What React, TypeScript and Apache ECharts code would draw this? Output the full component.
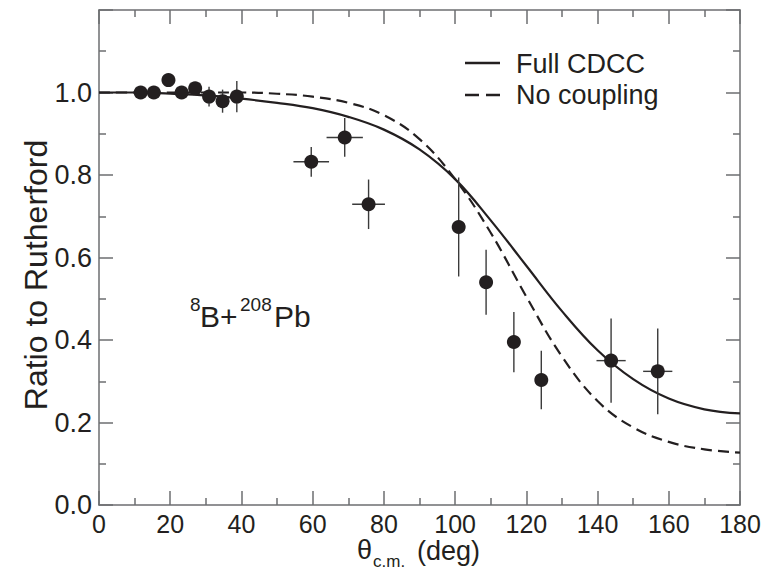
import React, { useEffect, useRef } from "react";
import * as echarts from "echarts";

// Measured data points (theta c.m. in deg, ratio to Rutherford)
const angles = [11.7, 15.4, 19.5, 23.2, 27.0, 30.9, 34.7, 38.7, 59.6, 69.0, 75.7, 101.0, 108.7, 116.5, 124.2, 143.8, 156.9];
const ratios = [1.0, 1.0, 1.03, 1.0, 1.01, 0.99, 0.979, 0.99, 0.832, 0.891, 0.729, 0.674, 0.54, 0.395, 0.303, 0.35, 0.324];
const ratioErrors = [0, 0, 0, 0, 0.014, 0.024, 0.028, 0.038, 0.036, 0.047, 0.06, 0.12, 0.079, 0.073, 0.071, 0.102, 0.104];
const angleErrors = [0, 0, 0, 0, 0, 0, 0, 0, 5.0, 5.1, 4.6, 0, 0, 0, 0, 4.1, 4.1];

// Calculated curves
const curveAngles = [0, 10, 20, 30, 40, 50, 60, 70, 80, 90, 100, 110, 120, 130, 140, 150, 160, 170, 180];
const fullCdcc = [1.0, 1.0, 0.997, 0.993, 0.985, 0.975, 0.962, 0.941, 0.91, 0.862, 0.79, 0.69, 0.58, 0.47, 0.375, 0.305, 0.258, 0.232, 0.222];
const noCoupling = [1.0, 1.0, 1.0, 1.0, 1.0, 0.997, 0.99, 0.975, 0.945, 0.887, 0.79, 0.66, 0.505, 0.36, 0.252, 0.188, 0.153, 0.135, 0.127];

const seriesNames = ["Full CDCC", "No coupling"];
const yTickLabels = ["0.0", "0.2", "0.4", "0.6", "0.8", "1.0"];

const FONT = "'Liberation Sans', Arial, Helvetica, sans-serif";
const INK = "#231f20";
const AXIS = "#6d6e71";

export default function App() {
  const ref = useRef<HTMLDivElement>(null);

  useEffect(() => {
    if (!ref.current) return;
    const chart = echarts.init(ref.current, undefined, { renderer: "svg" });

    const points = angles.map((a, i) => [a, ratios[i], ratioErrors[i], angleErrors[i]]);
    const cdccData = curveAngles.map((a, i) => [a, fullCdcc[i]]);
    const noCoupData = curveAngles.map((a, i) => [a, noCoupling[i]]);

    const tickCommon = {
      axisLine: { show: true, onZero: false, lineStyle: { color: AXIS, width: 1.5 } },
      axisTick: { show: true, inside: true, length: 14, lineStyle: { color: AXIS, width: 1.5 } },
      minorTick: { show: true, splitNumber: 2, length: 7, lineStyle: { color: AXIS, width: 1.5 } },
      splitLine: { show: false },
      minorSplitLine: { show: false },
    };

    const textStyle = (extra: any) => ({ fontFamily: FONT, fill: INK, ...extra });

    const option: any = {
      animation: false,
      backgroundColor: "#ffffff",
      grid: { left: 99, right: 24, top: 10, bottom: 65, containLabel: false },
      xAxis: [
        {
          type: "value",
          min: 0,
          max: 180,
          interval: 20,
          position: "bottom",
          ...tickCommon,
          axisLabel: { show: true, fontFamily: FONT, fontSize: 25, color: INK, margin: 6 },
        },
        {
          type: "value",
          min: 0,
          max: 180,
          interval: 20,
          position: "top",
          ...tickCommon,
          axisLabel: { show: false },
        },
      ],
      yAxis: [
        {
          type: "value",
          min: 0,
          max: 1.2,
          interval: 0.2,
          position: "left",
          ...tickCommon,
          axisLabel: {
            show: true,
            fontFamily: FONT,
            fontSize: 27,
            color: INK,
            margin: 7,
            formatter: (v: number) => {
              const idx = Math.round(v / 0.2);
              return idx < yTickLabels.length ? yTickLabels[idx] : "";
            },
          },
        },
        {
          type: "value",
          min: 0,
          max: 1.2,
          interval: 0.2,
          position: "right",
          ...tickCommon,
          axisLabel: { show: false },
        },
      ],
      graphic: [
        // y-axis title
        {
          type: "text",
          x: 36,
          y: 275,
          rotation: Math.PI / 2,
          style: textStyle({ text: "Ratio to Rutherford", fontSize: 32, align: "center", verticalAlign: "middle" }),
        },
        // x-axis title: theta with subscript c.m.
        {
          type: "text",
          x: 357,
          y: 550,
          style: textStyle({ text: "θ", fontSize: 27, align: "left", verticalAlign: "middle" }),
        },
        {
          type: "text",
          x: 373,
          y: 561,
          style: textStyle({ text: "c.m.", fontSize: 17, align: "left", verticalAlign: "middle" }),
        },
        {
          type: "text",
          x: 417,
          y: 551,
          style: textStyle({ text: "(deg)", fontSize: 27, align: "left", verticalAlign: "middle" }),
        },
        // legend
        {
          type: "line",
          shape: { x1: 465, y1: 63, x2: 500, y2: 63 },
          style: { stroke: INK, lineWidth: 2.4 },
        },
        {
          type: "text",
          x: 516,
          y: 64,
          style: textStyle({ text: seriesNames[0], fontSize: 27, align: "left", verticalAlign: "middle" }),
        },
        {
          type: "line",
          shape: { x1: 465, y1: 95, x2: 500, y2: 95 },
          style: { stroke: INK, lineWidth: 2.4, lineDash: [14, 7] },
        },
        {
          type: "text",
          x: 516,
          y: 95,
          style: textStyle({ text: seriesNames[1], fontSize: 27, align: "left", verticalAlign: "middle" }),
        },
        // reaction label 8B + 208Pb
        {
          type: "text",
          x: 190,
          y: 304,
          style: textStyle({ text: "8", fontSize: 19, align: "left", verticalAlign: "middle" }),
        },
        {
          type: "text",
          x: 200,
          y: 316,
          style: textStyle({ text: "B+", fontSize: 30, align: "left", verticalAlign: "middle" }),
        },
        {
          type: "text",
          x: 240,
          y: 304,
          style: textStyle({ text: "208", fontSize: 19, align: "left", verticalAlign: "middle" }),
        },
        {
          type: "text",
          x: 274,
          y: 316,
          style: textStyle({ text: "Pb", fontSize: 30, align: "left", verticalAlign: "middle" }),
        },
      ],
      series: [
        {
          name: seriesNames[0],
          type: "line",
          data: cdccData,
          smooth: 0.4,
          symbol: "none",
          lineStyle: { color: INK, width: 2.2, type: "solid" },
          itemStyle: { color: INK },
          z: 3,
        },
        {
          name: seriesNames[1],
          type: "line",
          data: noCoupData,
          smooth: 0.4,
          symbol: "none",
          lineStyle: { color: INK, width: 2.2, type: [11, 6] },
          itemStyle: { color: INK },
          z: 3,
        },
        {
          name: "errors",
          type: "custom",
          data: points,
          z: 4,
          renderItem: (params: any, api: any) => {
            const x = api.value(0);
            const y = api.value(1);
            const ye = api.value(2);
            const xe = api.value(3);
            const children: any[] = [];
            const st = { stroke: "#3a3a3a", lineWidth: 1.4 };
            if (ye > 0) {
              const p1 = api.coord([x, y - ye]);
              const p2 = api.coord([x, y + ye]);
              children.push({ type: "line", shape: { x1: p1[0], y1: p1[1], x2: p2[0], y2: p2[1] }, style: st });
            }
            if (xe > 0) {
              const p1 = api.coord([x - xe, y]);
              const p2 = api.coord([x + xe, y]);
              children.push({ type: "line", shape: { x1: p1[0], y1: p1[1], x2: p2[0], y2: p2[1] }, style: st });
            }
            return { type: "group", children };
          },
        },
        {
          name: "data",
          type: "scatter",
          data: points.map((p) => [p[0], p[1]]),
          symbol: "circle",
          symbolSize: 14,
          itemStyle: { color: INK, opacity: 1 },
          z: 5,
        },
      ],
    };

    chart.setOption(option);
    return () => chart.dispose();
  }, []);

  return (
    <div
      ref={ref}
      style={{ position: "fixed", left: 0, top: 0, width: 764, height: 570, background: "#fff" }}
    />
  );
}
